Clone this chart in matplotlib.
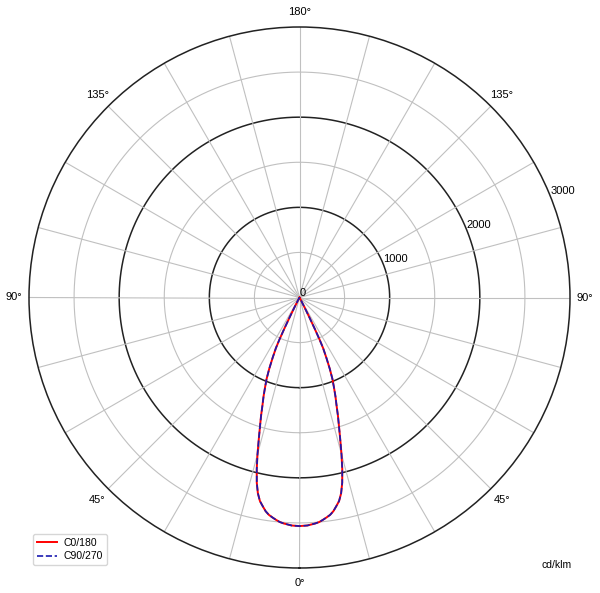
import numpy as np
import matplotlib.pyplot as plt

plt.rcParams['font.family'] = ['Liberation Sans', 'DejaVu Sans']

# gamma angles (deg) and intensity (cd/klm), half plane 0..180
gamma = [0, 2, 4, 5, 6, 7, 8, 9, 10, 11, 12, 13, 14, 15, 16, 17, 18, 19, 20,
         21, 22, 23, 24, 25, 25.5, 26, 26.5, 27, 28, 30, 35, 90, 180]
c0_180 = [2535, 2530, 2512, 2500, 2480, 2458, 2435, 2400, 2350, 2300, 2220,
          2107, 1960, 1800, 1640, 1500, 1380, 1260, 1165, 1065, 975, 860,
          735, 620, 520, 380, 240, 120, 40, 10, 0, 0, 0]
c90_270 = [2535, 2530, 2512, 2500, 2480, 2458, 2435, 2400, 2350, 2300, 2220,
           2107, 1960, 1800, 1640, 1500, 1380, 1260, 1165, 1065, 975, 860,
           735, 620, 520, 380, 240, 120, 40, 10, 0, 0, 0]

r_ticks = [0, 1000, 2000, 3000]
r_minor = [500, 1500, 2500]
angle_ticks = [0, 45, 90, 135, 180, 225, 270, 315]
angle_labels = ['0°', '45°', '90°', '135°', '180°', '135°', '90°', '45°']


def full_curve(vals):
    g = np.array(gamma, dtype=float)
    v = np.array(vals, dtype=float)
    # mirror: left side C0 / C90, right side C180 / C270
    th = np.concatenate([-g[::-1], g[1:]])
    rr = np.concatenate([v[::-1], v[1:]])
    return np.radians(th), rr


fig = plt.figure(figsize=(6, 5.93), dpi=100)
ax = fig.add_axes([29 / 600, 25 / 593, 541 / 600, 541 / 593], projection='polar')
ax.set_theta_zero_location('S')
ax.set_ylim(0, 3000)
ax.grid(False)

t = np.linspace(0, 2 * np.pi, 400)
for r in r_minor:
    ax.plot(t, np.full_like(t, r), color='#c0c0c0', lw=0.8, zorder=1)
for r in r_ticks[1:-1]:
    ax.plot(t, np.full_like(t, r), color='#222222', lw=1.1, zorder=1)
for a in range(0, 360, 15):
    ax.plot([np.radians(a)] * 2, [0, 3000], color='#c0c0c0', lw=0.8, zorder=1)
ax.spines['polar'].set_color('#222222')
ax.spines['polar'].set_linewidth(1.1)

ax.set_xticks(np.radians(angle_ticks))
ax.set_xticklabels(angle_labels, fontsize=8)
ax.tick_params(axis='x', pad=0.5)
ax.set_yticks(r_ticks)
ax.set_yticklabels([str(v) for v in r_ticks], fontsize=8)
ax.set_rlabel_position(112)

th, rr = full_curve(c0_180)
ax.plot(th, rr, color='red', lw=1.4, label='C0/180', zorder=3)
th, rr = full_curve(c90_270)
ax.plot(th, rr, color='#1a1ab0', lw=1.2, ls='--', label='C90/270', zorder=4)

fig.legend(loc='lower left', bbox_to_anchor=(33 / 600, 28 / 593), fontsize=7.5,
           frameon=True, edgecolor='#cccccc', handlelength=2.0,
           borderpad=0.35, handletextpad=0.6, labelspacing=0.35,
           borderaxespad=0)
fig.text(572 / 600, 28 / 593, 'cd/klm', fontsize=7.5, ha='right', va='center')

fig.savefig('out.png', dpi=100)
